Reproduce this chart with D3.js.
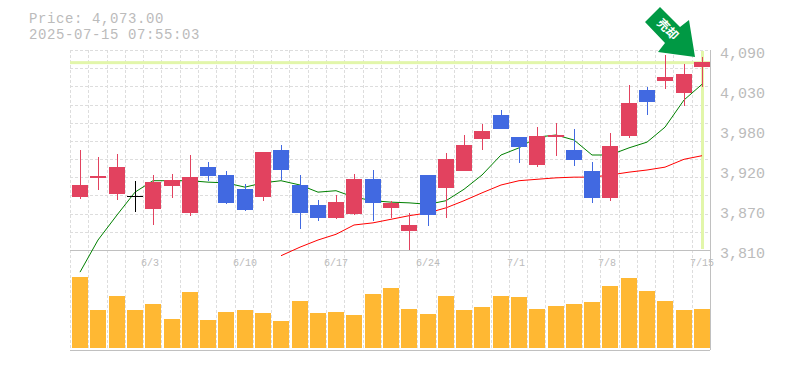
<!DOCTYPE html>
<html>
<head>
<meta charset="utf-8">
<script src="https://cdn.jsdelivr.net/npm/d3@7"></script>
<style>
  html, body { margin: 0; padding: 0; background: #fff; }
  text { font-family: "Liberation Mono", monospace; fill: #bbb; }
</style>
</head>
<body>
<div class="chart"></div>
<script>
const infoLines = ['Price: 4,073.00', '2025-07-15 07:55:03'];
const lastPrice = 4073;

const opens = [3884,3911,3888,3885,3867,3900,3862,3926,3915,3895,3884,3950,3901,3873,3855,3860,3909,3869,3837,3915,3897,3921,3965,3999,3968,3929,3968,3950,3921,3883,3970,4034,4047,4030,4066];
const highs = [3950,3940,3944,3907,3915,3916,3943,3933,3921,3902,3947,3957,3915,3880,3887,3916,3922,3879,3862,3915,3946,3971,3986,4006,3968,3982,3988,3979,3933,3974,4041,4038,4083,4070,4080];
const lows = [3881,3894,3880,3863,3845,3883,3858,3907,3874,3865,3879,3908,3839,3851,3853,3859,3851,3855,3810,3844,3855,3921,3950,3979,3932,3926,3942,3928,3876,3879,3967,3999,4035,4012,4038];
const closes = [3901,3914,3926,3885,3905,3908,3912,3914,3876,3866,3947,3922,3862,3855,3877,3909,3876,3876,3845,3859,3937,3957,3977,3979,3954,3970,3971,3936,3883,3956,4016,4017,4052,4056,4073];
const volumes = [713,383,523,383,443,293,563,283,363,383,353,273,473,353,363,333,543,603,393,343,523,383,413,523,513,393,423,443,463,623,703,573,473,383,393];
const shortMa = [3779,3824,3859,3891,3907,3907,3907,3905,3904,3898,3904,3907,3901,3891,3893,3884,3879,3877,3876,3874,3879,3895,3915,3943,3953,3968,3971,3964,3943,3943,3953,3961,3982,4020,4042];
const longMa = [null,null,null,null,null,null,null,null,null,null,null,3802,3814,3824,3832,3845,3848,3853,3858,3862,3869,3879,3890,3901,3907,3909,3911,3912,3912,3915,3919,3922,3926,3937,3942];

const dateTicks = [[4,'6/3'],[9,'6/10'],[14,'6/17'],[19,'6/24'],[24,'7/1'],[29,'7/8'],[34,'7/15']];
const priceTicks = [4090,4030,3980,3920,3870,3810];
const tickPositions = [4090,4034,3978,3922,3866,3810];

// Dimensions
const width = 785, height = 370;
const plot = { left: 70, right: 710, top: 50, mid: 250, bottom: 350 };
const colors = { up: '#e2425f', down: '#4169e1', flat: '#000', vol: '#ffb833', mark: '#e2f6aa', grid: '#ddd', axis: '#c0c0c0' };

const svg = d3.select('.chart').append('svg')
    .attr('width', width)
    .attr('height', height)
    .style('display', 'block');

// Build scales.
const x = d3.scaleBand().domain(d3.range(closes.length)).range([plot.left, plot.right]).padding(0);
const cx = i => Math.round(x(i) + x.bandwidth() / 2 + 1);
const y = d3.scaleLinear().domain([3810, 4090]).range([plot.mid, plot.top]);
const v = d3.scaleLinear().domain([0, 1000]).range([348, 248]);

// Grid
const grid = svg.append('g').attr('stroke', colors.grid).attr('stroke-dasharray', '3,2').attr('shape-rendering', 'crispEdges');
d3.range(closes.length).forEach(i => {
    grid.append('line').attr('x1', x(i) + 0.5).attr('x2', x(i) + 0.5).attr('y1', plot.top).attr('y2', plot.bottom);
});
d3.range(11).forEach(i => {
    const gy = plot.top + i * (plot.mid - plot.top) / 11;
    grid.append('line').attr('x1', plot.left).attr('x2', plot.right).attr('y1', gy + 0.5).attr('y2', gy + 0.5);
});

// Frame
const frame = svg.append('g').attr('stroke', colors.axis).attr('shape-rendering', 'crispEdges');
frame.append('line').attr('x1', plot.left).attr('x2', plot.right).attr('y1', plot.mid + 0.5).attr('y2', plot.mid + 0.5);
frame.append('line').attr('x1', plot.left).attr('x2', plot.right).attr('y1', plot.bottom + 0.5).attr('y2', plot.bottom + 0.5);
frame.append('line').attr('x1', plot.right + 0.5).attr('x2', plot.right + 0.5).attr('y1', plot.top).attr('y2', plot.bottom);

// Last price marker
svg.append('rect').attr('x', plot.left).attr('width', plot.right - plot.left).attr('y', y(lastPrice) - 1).attr('height', 3).attr('fill', colors.mark);
svg.append('rect').attr('x', cx(34) - 1).attr('width', 3).attr('y', plot.top + 1).attr('height', plot.mid - plot.top - 2).attr('fill', colors.mark);

// Moving averages
const line = d3.line().defined(d => d != null).x((d, i) => cx(i)).y(d => y(d));
svg.append('path').datum(shortMa).attr('d', line).attr('fill', 'none').attr('stroke', '#008000');
svg.append('path').datum(longMa).attr('d', line).attr('fill', 'none').attr('stroke', '#f00');

// Candles
const candleColor = i => closes[i] > opens[i] ? colors.up : closes[i] < opens[i] ? colors.down : colors.flat;
const candles = svg.append('g').attr('shape-rendering', 'crispEdges');
candles.selectAll('line').data(d3.range(closes.length)).join('line')
    .attr('x1', i => cx(i) + 0.5).attr('x2', i => cx(i) + 0.5)
    .attr('y1', i => y(highs[i]))
    .attr('y2', i => y(lows[i]))
    .attr('stroke', candleColor);
candles.selectAll('rect').data(d3.range(closes.length)).join('rect')
    .attr('x', i => cx(i) - 8)
    .attr('width', 16)
    .attr('y', i => y(Math.max(opens[i], closes[i])))
    .attr('height', i => Math.max(1, Math.abs(y(opens[i]) - y(closes[i]))))
    .attr('fill', candleColor);

// Volume
svg.append('g').attr('shape-rendering', 'crispEdges').selectAll('rect').data(volumes).join('rect')
    .attr('x', (d, i) => cx(i) - 8)
    .attr('width', 16)
    .attr('y', d => v(d))
    .attr('height', d => v(0) - v(d))
    .attr('fill', colors.vol);

// Labels
svg.append('g').selectAll('text').data(infoLines).join('text')
    .attr('x', 29)
    .attr('y', (d, i) => 22.5 + i * 16)
    .attr('font-size', 14)
    .attr('letter-spacing', 0.6)
    .text(d => d);
svg.append('g').selectAll('text').data(priceTicks).join('text')
    .attr('x', 720)
    .attr('y', (d, i) => y(tickPositions[i]) + 8)
    .attr('font-size', 15)
    .text(d => d3.format(',')(d));
svg.append('g').selectAll('text').data(dateTicks).join('text')
    .attr('x', d => cx(d[0]) + (d[1].length === 3 ? -3 : 0))
    .attr('y', 266)
    .attr('text-anchor', 'middle')
    .attr('font-size', 10)
    .text(d => d[1]);

// Arrow
svg.append('path')
    .attr('d', 'M695,57L689,20L680,27L660,7L645,22L665,43L658,52Z')
    .attr('fill', '#009944');
svg.append('text')
    .attr('transform', 'translate(667,30) rotate(45)')
    .attr('text-anchor', 'middle')
    .attr('dominant-baseline', 'middle')
    .attr('font-size', 12)
    .attr('font-weight', 'bold')
    .style('font-family', '"Noto Sans CJK JP"')
    .style('fill', '#fff')
    .text('売却');
</script>
</body>
</html>
